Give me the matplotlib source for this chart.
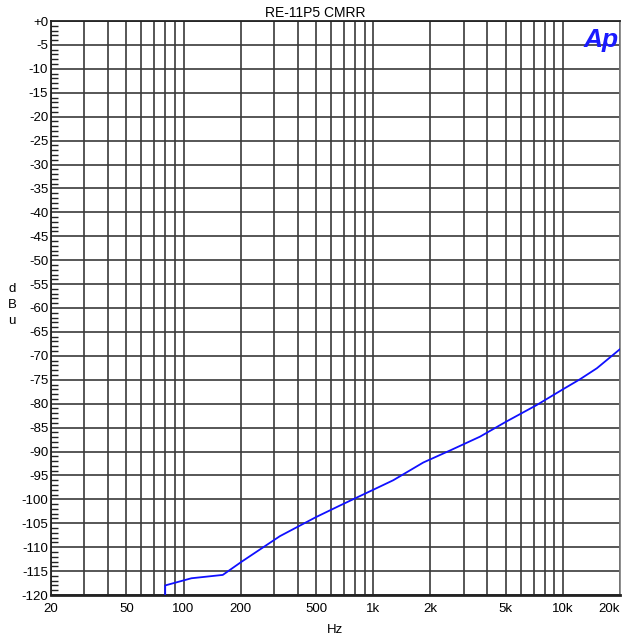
import numpy as np
import matplotlib.pyplot as plt
from matplotlib.ticker import FixedLocator, NullFormatter

plt.rcParams['font.family'] = ['Liberation Sans', 'DejaVu Sans']

# data (CMRR sweep)
freq_hz = [80, 80, 110, 161, 203, 322, 500, 667, 1000, 1276, 1836, 2536,
           3654, 5000, 7264, 10000, 12300, 15100, 20000]
level_dbu = [-120.0, -118.0, -116.5, -115.8, -113.0, -107.7, -103.7, -101.3,
             -98.0, -96.0, -92.3, -89.8, -86.9, -83.8, -80.3, -77.0, -74.9,
             -72.6, -68.6]

x_ticks = [20, 50, 100, 200, 500, 1000, 2000, 5000, 10000, 20000]
x_labels = ["20", "50", "100", "200", "500", "1k", "2k", "5k", "10k", "20k"]
y_ticks = list(range(-120, 1, 5))
y_labels = ["+0" if v == 0 else str(v) for v in y_ticks]

fig = plt.figure(figsize=(6.22, 6.36), dpi=100)
ax = fig.add_axes([51 / 622, 41 / 636, 569 / 622, 574 / 636])

ax.set_xscale("log")
ax.set_xlim(20, 20000)
ax.set_ylim(-120, 0)

# vertical grid at every 1-2-3...9 decade step
vgrid = [m * 10 ** e for e in range(1, 5) for m in range(1, 10) if 20 <= m * 10 ** e <= 20000]
for v in vgrid:
    ax.axvline(v, color="#3a3a3a", lw=1.2, zorder=1)
for h in y_ticks:
    ax.axhline(h, color="#3a3a3a", lw=1.2, zorder=1)

ax.plot(freq_hz, level_dbu, color="#1010ff", lw=1.3, zorder=3, clip_on=True)

ax.xaxis.set_major_locator(FixedLocator(x_ticks))
ax.xaxis.set_minor_locator(FixedLocator([]))
ax.xaxis.set_minor_formatter(NullFormatter())
ax.set_xticklabels(x_labels)
ax.set_yticks(y_ticks)
ax.set_yticklabels(y_labels)
ax.yaxis.set_minor_locator(FixedLocator(list(range(-120, 1))))

ax.tick_params(axis="x", which="both", length=0, pad=6, labelsize=9.5)
ax.tick_params(axis="y", which="major", direction="in", length=0, pad=2, labelsize=9.5)
ax.tick_params(axis="y", which="minor", direction="in", length=5, width=1, color="#222222")

# last label sits flush against the right edge like the reference
ax.get_xticklabels()[-1].set_horizontalalignment("right")

for side in ["left", "top", "bottom"]:
    ax.spines[side].set_color("#222222")
    ax.spines[side].set_linewidth(1.3)
ax.spines["bottom"].set_linewidth(2)
ax.spines["right"].set_color("#7a7a7a")
ax.spines["right"].set_linewidth(1.2)

ax.set_xlabel("Hz", fontsize=9.5, labelpad=6)
fig.text(12 / 622, 1 - 305 / 636, "d\nB\nu", ha="center", va="center",
         fontsize=9.5, linespacing=1.45)
fig.text(315 / 622, 1 - 13 / 636, "RE-11P5 CMRR", ha="center", va="center",
         fontsize=10)
ax.text(0.998, 0.988, "Ap", transform=ax.transAxes, ha="right", va="top",
        fontsize=19, fontweight="bold", fontstyle="italic", color="#1a1aff",
        zorder=5)

fig.savefig("out.png", dpi=100)
